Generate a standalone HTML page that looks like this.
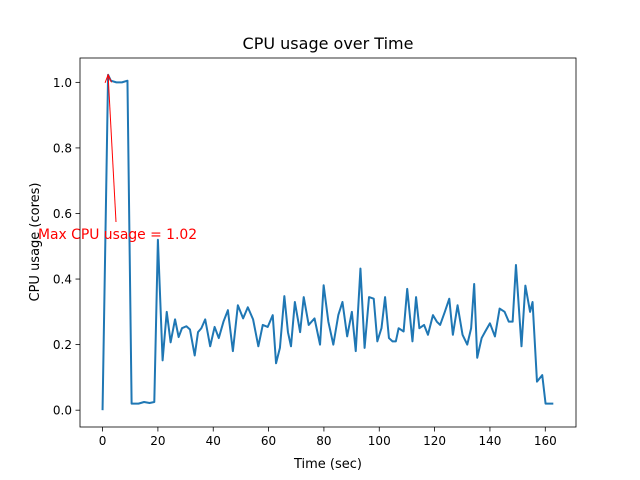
<!DOCTYPE html>
<html><head><meta charset="utf-8"><style>
html,body{margin:0;padding:0;background:#fff;}
svg{display:block;font-family:"DejaVu Sans","Liberation Sans",sans-serif;}
</style></head><body>
<svg id="chart" width="640" height="480"></svg>
<script>
const times = [0,2,3,5,7,9,10.5,13,15,17,18.7,20,21.7,23.2,24.6,26.2,27.5,28.7,30.3,31.6,33.3,34.5,35.7,37.1,38.9,40.5,42.0,43.7,45.3,47.1,48.9,50.8,52.5,54.4,56.3,57.9,59.7,61.5,62.7,64.1,65.7,67.0,68.1,69.5,71.4,72.7,74.5,76.6,78.6,79.9,81.6,83.4,85.2,86.7,88.4,90.1,91.5,93.2,94.7,96.3,98.0,99.3,100.8,102.1,103.5,104.8,106.0,107.0,108.8,110.1,112.0,113.3,114.5,116.2,117.6,119.4,120.8,122.0,123.7,125.3,126.6,128.3,130.1,131.8,133.2,134.3,135.4,137.0,138.3,140.0,141.8,143.5,145.3,146.8,148.2,149.4,151.4,152.8,154.5,155.4,157.0,158.9,160.1,162.9];
const usage = [0,1.023,1.005,1.0,1.0,1.005,0.02,0.02,0.025,0.022,0.025,0.52,0.152,0.30,0.207,0.277,0.223,0.25,0.256,0.246,0.167,0.238,0.25,0.277,0.195,0.254,0.22,0.27,0.305,0.18,0.32,0.28,0.314,0.277,0.195,0.26,0.254,0.29,0.143,0.19,0.348,0.238,0.195,0.33,0.238,0.345,0.26,0.28,0.20,0.381,0.27,0.2,0.29,0.33,0.225,0.30,0.18,0.432,0.19,0.345,0.34,0.21,0.25,0.345,0.22,0.21,0.21,0.25,0.24,0.37,0.21,0.345,0.25,0.26,0.23,0.29,0.27,0.26,0.30,0.34,0.23,0.32,0.23,0.20,0.25,0.385,0.16,0.22,0.24,0.265,0.225,0.31,0.30,0.27,0.27,0.443,0.195,0.38,0.30,0.33,0.087,0.107,0.02,0.02];
const xTicks = [0,20,40,60,80,100,120,140,160];
const yTicks = [0.0,0.2,0.4,0.6,0.8,1.0];
const maxLabel = "Max CPU usage = 1.02";

const NS="http://www.w3.org/2000/svg";
const svg=document.getElementById('chart');
const L=80,R=576,T=58,B=427;
const xmin=-8.15,xmax=171.1,ymin=-0.0513,ymax=1.0743;
const X=v=>L+(v-xmin)/(xmax-xmin)*(R-L);
const Y=v=>B-(v-ymin)/(ymax-ymin)*(B-T);
function mk(tag,attrs,parent){const e=document.createElementNS(NS,tag);for(const k in attrs)e.setAttribute(k,attrs[k]);(parent||svg).appendChild(e);return e;}

const title=mk('text',{x:328,y:49,'text-anchor':'middle','font-size':16});
title.textContent='CPU usage over Time';



xTicks.forEach(t=>{
  const g=mk('g',{});
  
  
  mk('line',{x1:X(t),x2:X(t),y1:B,y2:B+4.5,stroke:'#000','stroke-width':0.8},g);
  const tx=mk('text',{x:X(t),y:B+18,'text-anchor':'middle','font-size':12},g);
  tx.textContent=t;
});
yTicks.forEach(t=>{
  const g=mk('g',{});
  
  
  mk('line',{x1:L-4.5,x2:L,y1:Y(t),y2:Y(t),stroke:'#000','stroke-width':0.8},g);
  const tx=mk('text',{x:L-8,y:Y(t)+4.5,'text-anchor':'end','font-size':12},g);
  tx.textContent=t.toFixed(1);
});
const xl=mk('text',{x:328,y:468,'text-anchor':'middle','font-size':13});
xl.textContent='Time (sec)';


const yl=mk('text',{x:0,y:0,'text-anchor':'middle','font-size':13,transform:'translate(39,242) rotate(-90)'});
yl.textContent='CPU usage (cores)';



const line=mk('polyline',{points:times.map((t,i)=>X(t)+','+Y(usage[i])).join(' '),fill:'none',stroke:'#1f77b4','stroke-width':2,'stroke-linejoin':'round'});



let mi=0;usage.forEach((v,i)=>{if(v>usage[mi])mi=i;});
const ax=X(times[mi]),ay=Y(usage[mi]);
const ann=mk('g',{});


mk('line',{x1:116,y1:222,x2:ax,y2:ay,stroke:'red','stroke-width':1},ann);
mk('path',{d:`M${ax-3},${ay+8} L${ax},${ay} L${ax+3.5},${ay+7.5}`,fill:'none',stroke:'red','stroke-width':1},ann);
const at=mk('text',{x:38,y:239,'font-size':13.9,fill:'red'},ann);
at.textContent=maxLabel;

const frame=mk('rect',{x:L,y:T,width:R-L,height:B-T,fill:'none',stroke:'#000','stroke-width':0.8});


</script>
</body></html>
